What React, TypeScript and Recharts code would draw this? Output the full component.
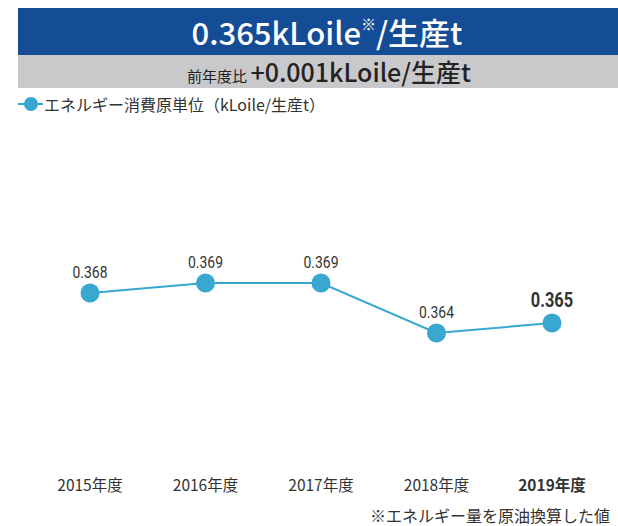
import { LineChart, Line, XAxis, YAxis, LabelList } from "recharts";

const years = ["2015年度", "2016年度", "2017年度", "2018年度", "2019年度"];
const intensity = [0.368, 0.369, 0.369, 0.364, 0.365];
const yDomain = [0.35, 0.385];

const data = years.map((year, i) => ({ year, value: intensity[i] }));

const LINE = "#38a8d1";
const JP = '"Noto Sans CJK JP", "Noto Sans", sans-serif';
const NARROW = '"Roboto", sans-serif';

const YearTick = (props: any) => {
  const { x, y, payload, index } = props;
  const last = index === years.length - 1;
  return (
    <text
      x={x}
      y={y}
      dy={10}
      textAnchor="middle"
      fill="#333"
      fontSize={15.5}
      fontWeight={last ? 700 : 400}
      fontFamily={JP}
    >
      {payload.value}
    </text>
  );
};

const ValueLabel = (props: any) => {
  const { x, y, value, index } = props;
  const last = index === intensity.length - 1;
  const ty = y - (last ? 16 : 15);
  return (
    <g transform={`translate(${x},${ty}) scale(0.82,1)`}>
      <text
        x={0}
        y={0}
        textAnchor="middle"
        fill="#333"
        fontSize={last ? 20 : 17}
        fontWeight={last ? 700 : 400}
        fontFamily={NARROW}
      >
        {value.toFixed(3)}
      </text>
    </g>
  );
};

export default function App() {
  return (
    <div
      style={{
        position: "absolute",
        left: 0,
        top: 0,
        width: 618,
        height: 526,
        overflow: "hidden",
        background: "#fff",
        fontFamily: JP,
      }}
    >
      <div
        style={{
          position: "absolute",
          left: 18,
          top: 8,
          width: 600,
          height: 47,
          background: "#144c96",
          color: "#fff",
          fontSize: 31,
          fontWeight: 500,
          lineHeight: "47px",
          textAlign: "center",
          paddingLeft: 18,
          boxSizing: "border-box",
        }}
      >
        0.365kLoile<span style={{ fontSize: 15, verticalAlign: "top", lineHeight: "32px" }}>※</span>/生産t
      </div>
      <div
        style={{
          position: "absolute",
          left: 18,
          top: 55,
          width: 600,
          height: 33,
          background: "#c9c9cb",
          color: "#222",
          lineHeight: "33px",
          textAlign: "center",
          paddingLeft: 22,
          boxSizing: "border-box",
          whiteSpace: "nowrap",
        }}
      >
        <span style={{ fontSize: 15 }}>前年度比 </span>
        <span style={{ fontSize: 25, fontWeight: 500 }}>+0.001kLoile/生産t</span>
      </div>
      <div
        style={{
          position: "absolute",
          left: 18,
          top: 94,
          height: 20,
          display: "flex",
          alignItems: "center",
          fontSize: 16,
          color: "#333",
          whiteSpace: "nowrap",
        }}
      >
        <svg width={25} height={16}>
          <line x1={0} y1={8} x2={25} y2={8} stroke={LINE} strokeWidth={2} />
          <circle cx={13} cy={8} r={7} fill={LINE} />
        </svg>
        <span style={{ marginLeft: 1 }}>エネルギー消費原単位（kLoile/生産t）</span>
      </div>

      <div style={{ position: "absolute", left: 0, top: 0 }}>
        <LineChart
          width={618}
          height={526}
          data={data}
          margin={{ top: 123, right: 66, bottom: 23, left: 90 }}
        >
          <XAxis
            dataKey="year"
            axisLine={false}
            tickLine={false}
            height={30}
            interval={0}
            tick={<YearTick />}
          />
          <YAxis hide domain={yDomain} />
          <Line
            type="linear"
            dataKey="value"
            stroke={LINE}
            strokeWidth={2}
            dot={{ r: 9.5, fill: LINE, stroke: "none" }}
            activeDot={false}
            isAnimationActive={false}
          >
            <LabelList dataKey="value" content={<ValueLabel />} />
          </Line>
        </LineChart>
      </div>

      <div
        style={{
          position: "absolute",
          left: 370,
          top: 505,
          fontSize: 16,
          lineHeight: "20px",
          color: "#333",
          whiteSpace: "nowrap",
        }}
      >
        ※エネルギー量を原油換算した値
      </div>
    </div>
  );
}
